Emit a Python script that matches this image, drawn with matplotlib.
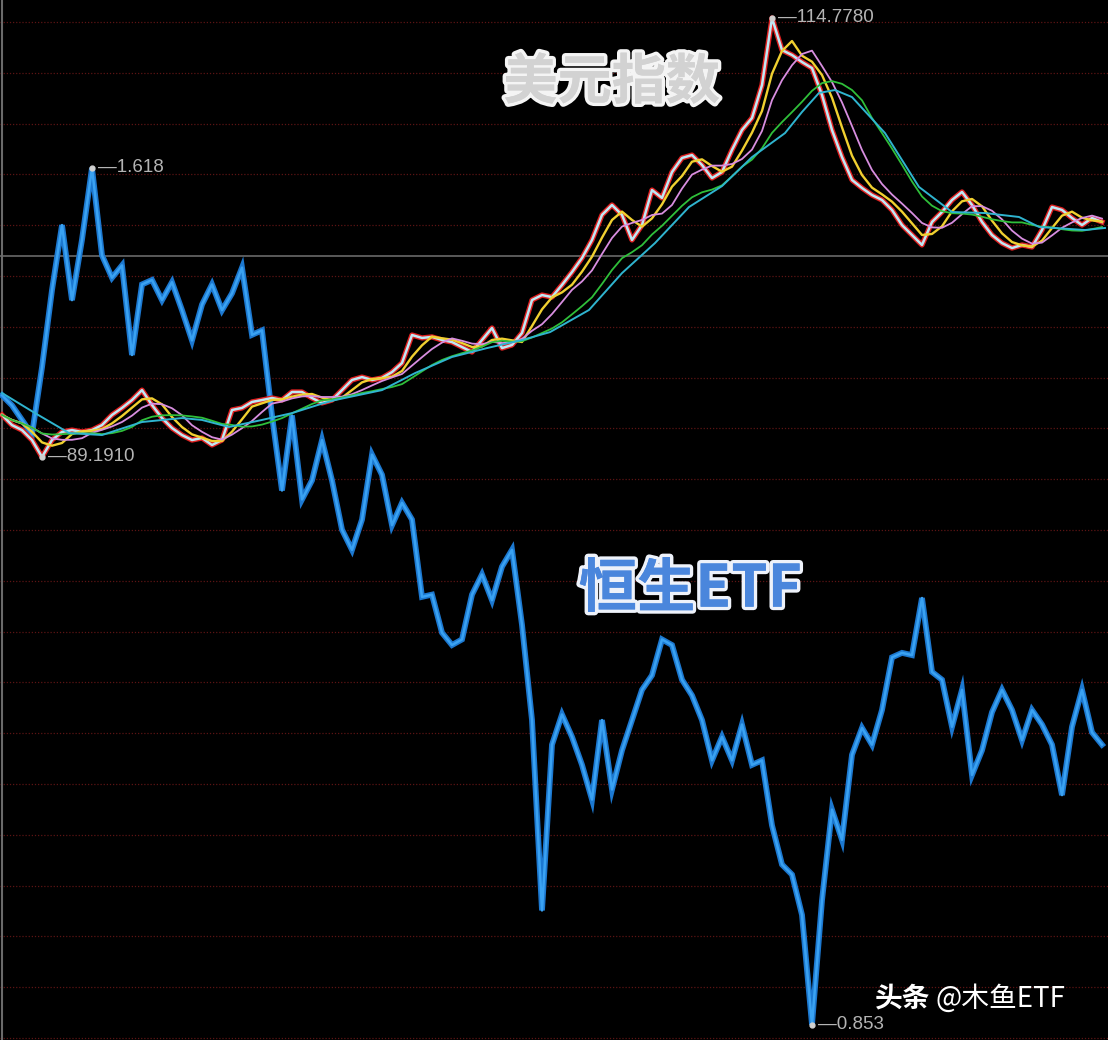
import numpy as np
import pandas as pd
import matplotlib
matplotlib.use("Agg")
from matplotlib import pyplot as plt
import matplotlib.patheffects as pe

plt.rcParams['font.family'] = ['Noto Sans CJK SC', 'DejaVu Sans']

# 恒生ETF 收盘（每10个交易单位取一点）
hs_close = [1.415, 1.406, 1.393, 1.380, 1.440, 1.509, 1.567, 1.500, 1.554, 1.618,
            1.540, 1.520, 1.531, 1.451, 1.514, 1.518, 1.500, 1.516, 1.491, 1.464,
            1.496, 1.514, 1.491, 1.506, 1.529, 1.469, 1.473, 1.397, 1.330, 1.397,
            1.322, 1.339, 1.375, 1.339, 1.295, 1.277, 1.304, 1.362, 1.344, 1.299,
            1.319, 1.304, 1.235, 1.237, 1.203, 1.192, 1.197, 1.237, 1.255, 1.232,
            1.262, 1.277, 1.210, 1.125, 0.955, 1.103, 1.130, 1.110, 1.085, 1.054,
            1.125, 1.063, 1.098, 1.125, 1.152, 1.165, 1.197, 1.192, 1.161, 1.147,
            1.125, 1.089, 1.110, 1.089, 1.121, 1.085, 1.089, 1.031, 0.996, 0.987,
            0.951, 0.853, 0.964, 1.045, 1.018, 1.094, 1.118, 1.103, 1.134, 1.181,
            1.185, 1.183, 1.234, 1.168, 1.161, 1.119, 1.152, 1.076, 1.098, 1.132,
            1.152, 1.134, 1.107, 1.134, 1.121, 1.103, 1.058, 1.119, 1.152, 1.114,
            1.103]

# 美元指数 收盘
dxy_close = [91.64, 91.05, 90.76, 90.18, 89.19, 90.18, 90.65, 90.76, 90.65, 90.76,
             91.05, 91.64, 92.05, 92.51, 93.09, 92.22, 91.46, 90.88, 90.47, 90.18,
             90.30, 89.89, 90.18, 91.93, 92.05, 92.40, 92.51, 92.63, 92.51, 92.98,
             92.98, 92.63, 92.34, 92.51, 93.09, 93.68, 93.85, 93.68, 93.80, 94.14,
             94.67, 96.30, 96.13, 96.19, 96.01, 95.89, 95.60, 95.31, 96.01, 96.71,
             95.54, 95.72, 96.42, 98.34, 98.63, 98.51, 99.22, 99.97, 100.79, 101.84,
             103.30, 103.88, 103.30, 101.84, 102.71, 104.75, 104.29, 105.80, 106.62, 106.79,
             106.21, 105.45, 105.80, 107.09, 108.25, 108.95, 110.87, 114.78, 112.91, 112.62,
             112.21, 111.86, 110.29, 108.25, 106.67, 105.34, 104.87, 104.46, 104.17, 103.59,
             102.71, 102.13, 101.55, 102.89, 103.47, 104.17, 104.64, 103.88, 102.89, 102.13,
             101.66, 101.37, 101.55, 101.43, 102.42, 103.76, 103.59, 103.12, 102.71, 103.12,
             102.89]

# 美元指数 长期均线（单独读取）
dxy_ma_long_x = [0, 3.3, 6.7, 10, 14, 18, 20, 22.7, 26, 29, 32, 33.3, 38, 41.3, 45,
                 48.5, 52, 54.8, 58.7, 62, 65.3, 68.7, 72, 75, 78.3, 80, 81.7, 83.3,
                 85, 88.3, 91.7, 95, 98.3, 101.7, 103.7, 108.3, 110.3]
dxy_ma_long = [92.92, 91.75, 90.59, 90.47, 91.23, 91.46, 91.35, 90.94, 91.35, 91.75,
               92.30, 92.51, 93.09, 94.08, 95.02, 95.54, 96.01, 96.47, 97.76, 99.91,
               101.66, 103.76, 104.98, 106.67, 108.07, 109.30, 110.41, 110.58, 110.17,
               108.07, 104.93, 103.47, 103.41, 103.18, 102.60, 102.42, 102.54]

hs_hi = (9, 1.618)
hs_lo = (81, 0.853)
dxy_hi = (77, 114.778)
dxy_lo = (4, 89.191)

fig = plt.figure(figsize=(11.08, 10.4), dpi=100, facecolor='black')
ax = fig.add_axes([0, 0, 1, 1])
ax.set_facecolor('black')
ax2 = ax.twinx()
ax2.set_facecolor('none')

x = np.arange(len(hs_close))
xd = np.arange(len(dxy_close))

# 网格线
for k in range(21):
    yf = 1 - (22 + 50.8 * k) / 1040
    ax.plot([0, 1], [yf, yf], color='#5c1414', lw=0.9, ls=(0, (1, 1.5)), transform=ax.transAxes, zorder=0)
ax.plot([0, 1], [1 - 256 / 1040] * 2, color='#5a5a5a', lw=1.4, transform=ax.transAxes, zorder=0)
ax.plot([0.002, 0.002], [0, 1], color='#6a6a6a', lw=1.5, transform=ax.transAxes, zorder=0)

# 恒生ETF
ax.plot(x, hs_close, color='#1c78d0', lw=4.2, solid_joinstyle='miter', zorder=2)
ax.plot(x, hs_close, color='#3aa2f2', lw=1.8, zorder=3)
ax.set_xlim(-0.2, 110.6)
ax.set_ylim(0.8393, 1.768)

# 美元指数 + 均线
s = pd.Series(dxy_close)
ax2.plot(xd, dxy_close, color='#e02020', lw=3.8, zorder=2)
ax2.plot(xd, dxy_close, color='#bfe8f4', lw=1.8, zorder=3)
ax2.plot(xd, s.rolling(3, min_periods=1).mean(), color='#f0d030', lw=1.7, zorder=4)
ax2.plot(xd, s.rolling(5, min_periods=1).mean(), color='#d88ee0', lw=1.3, zorder=4)
ax2.plot(xd, s.rolling(10, min_periods=1).mean(), color='#2fbf3a', lw=1.3, zorder=4)
ax2.plot(dxy_ma_long_x, dxy_ma_long, color='#2fb4cf', lw=1.4, zorder=4)
ax2.set_xlim(-0.2, 110.6)
ax2.set_ylim(55.21, 115.827)

for a in (ax, ax2):
    a.set_xticks([])
    a.set_yticks([])
    for sp in a.spines.values():
        sp.set_visible(False)

# 最高/最低标注
lab = dict(color='#b4b4b4', fontsize=13.5, family=['Liberation Sans', 'DejaVu Sans'], va='center')
for a, (px, py), txt in [(ax, hs_hi, '1.618'), (ax, hs_lo, '0.853'),
                         (ax2, dxy_hi, '114.7780'), (ax2, dxy_lo, '89.1910')]:
    a.plot([px], [py], 'o', color='#d0d0d0', ms=3.5, zorder=6)
    a.annotate('—' + txt, (px, py), xytext=(4, 0), textcoords='offset points', zorder=6, **lab)

# 标题文字
ax.text(0.552, 0.920, '美元指数', transform=ax.transAxes, ha='center', va='center',
        fontsize=39, fontweight='heavy', color='#d2d2d2', zorder=7,
        path_effects=[pe.withStroke(linewidth=5, foreground='#f4f4f4'), pe.Normal()])
ax.text(0.623, 0.433, '恒生ETF', transform=ax.transAxes, ha='center', va='center',
        fontsize=42, fontweight='heavy', color='#4a86dc', zorder=7,
        path_effects=[pe.withStroke(linewidth=5, foreground='#eef2fa'), pe.Normal()])

# 水印
ax.text(0.790, 0.040, '头条', transform=ax.transAxes, ha='left', va='center',
        fontsize=20, fontweight='bold', color='white', zorder=7)
ax.text(0.844, 0.040, '@木鱼ETF', transform=ax.transAxes, ha='left', va='center',
        fontsize=20, color='white', zorder=7)

plt.savefig('out.png', dpi=100, facecolor='black')
